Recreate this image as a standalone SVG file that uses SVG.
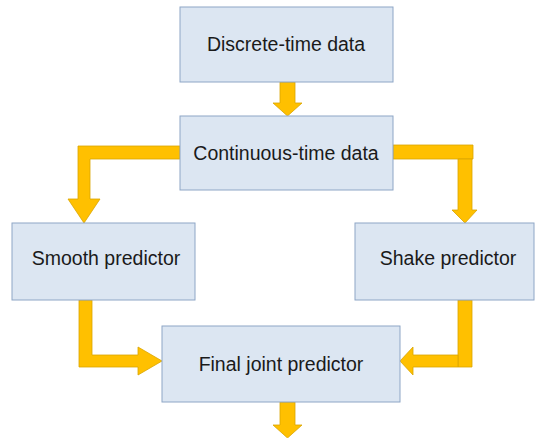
<svg xmlns="http://www.w3.org/2000/svg" width="536" height="438" viewBox="0 0 536 438">
<style>
.box{fill:#DCE6F2;stroke:#8EA6C6;stroke-width:1}
.lbl{font-family:"Liberation Sans",Arial,sans-serif;font-size:19.5px;fill:#1a1a1a;text-anchor:middle}
.arr{fill:#FFC000;stroke:#D9A400;stroke-width:0.8;stroke-linejoin:miter}
</style>
<rect width="536" height="438" fill="#ffffff"/>
<g id="connectors">
<polygon class="arr" points="280,82 295,82 295,103 302,103 287.5,116 273,103 280,103"/>
<polygon class="arr" points="180,146 180,159 90,159 90,199 100,199 84,223 68,199 78,199 78,146"/>
<polygon class="arr" points="393,145 473,145 473,159 393,159"/>
<polygon class="arr" points="458,159 472,159 472,210 477,210 465,223 452,210 458,210"/>
<polygon class="arr" points="79,300 92,300 92,355 138,355 138,347 162,361 138,375 138,367 79,367"/>
<polygon class="arr" points="458,300 472,300 472,367 458,367"/>
<polygon class="arr" points="458,355 458,367 413,367 413,375 400,361 413,347 413,355"/>
<polygon class="arr" points="280,402 295,402 295,425 302,425 287.5,438 273,425 280,425"/>
</g>
<g id="discrete">
<rect class="box" x="180" y="7" width="213" height="75"/>
<text class="lbl" x="286" y="51">Discrete-time data</text>
</g>
<g id="continuous">
<rect class="box" x="180" y="116" width="213" height="74"/>
<text class="lbl" x="286" y="160">Continuous-time data</text>
</g>
<g id="smooth">
<rect class="box" x="12" y="223" width="183" height="77"/>
<text class="lbl" x="106" y="265">Smooth predictor</text>
</g>
<g id="shake">
<rect class="box" x="355" y="223" width="179" height="77"/>
<text class="lbl" x="448" y="265">Shake predictor</text>
</g>
<g id="final">
<rect class="box" x="162" y="326" width="238" height="76"/>
<text class="lbl" x="281" y="371">Final joint predictor</text>
</g>
</svg>
